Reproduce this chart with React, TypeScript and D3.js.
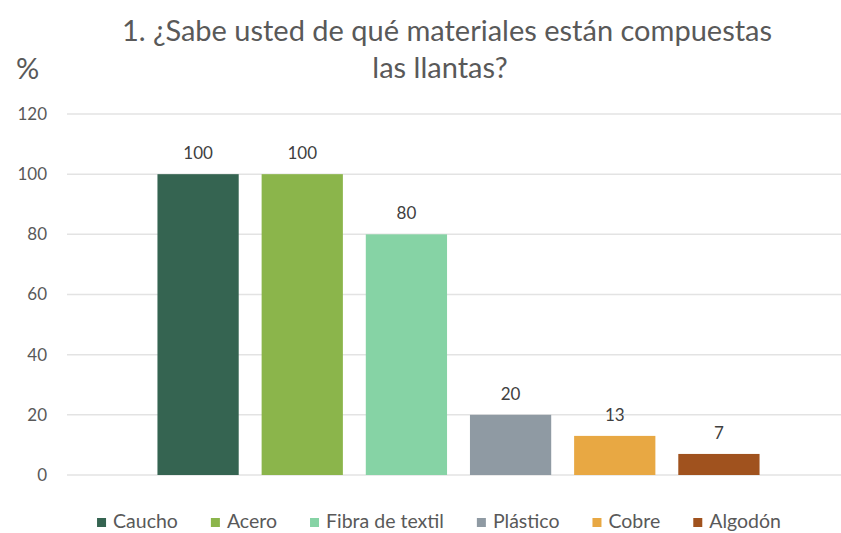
import React, { useEffect, useRef } from "react";
import * as d3 from "d3";

const categories = ["Caucho", "Acero", "Fibra de textil", "Plástico", "Cobre", "Algodón"];
const values = [100, 100, 80, 20, 13, 7];
const colors = ["#356451", "#8BB54B", "#86D3A5", "#8F9AA3", "#E8A843", "#A0521E"];
const yTicks = [0, 20, 40, 60, 80, 100, 120];
const titleLines = ["1. ¿Sabe usted de qué materiales están compuestas", "las llantas?"];
const yLabel = "%";

const W = 841;
const H = 533;
const FONT = "Lato, 'Open Sans', sans-serif";

export default function App() {
  const ref = useRef<SVGSVGElement>(null);

  useEffect(() => {
    const svg = d3.select(ref.current);
    svg.selectAll("*").remove();

    const y = d3.scaleLinear().domain([0, 120]).range([475, 114]);
    const x = d3.scaleBand<string>().domain(categories).range([146, 771]).paddingInner(0.22).paddingOuter(0.11);

    // gridlines
    svg.append("g")
      .selectAll("line")
      .data(yTicks)
      .join("line")
      .attr("x1", 67)
      .attr("x2", W)
      .attr("y1", (d) => y(d))
      .attr("y2", (d) => y(d))
      .attr("stroke", "#E3E3E3")
      .attr("stroke-width", 1.5);

    // y tick labels
    svg.append("g")
      .selectAll("text")
      .data(yTicks)
      .join("text")
      .attr("x", 47)
      .attr("y", (d) => y(d))
      .attr("dy", "0.35em")
      .attr("text-anchor", "end")
      .attr("font-family", FONT)
      .attr("font-size", 17)
      .attr("fill", "#595959")
      .text((d) => String(d));

    // bars
    svg.append("g")
      .selectAll("rect")
      .data(categories)
      .join("rect")
      .attr("x", (d) => x(d)!)
      .attr("width", x.bandwidth())
      .attr("y", (_, i) => y(values[i]))
      .attr("height", (_, i) => y(0) - y(values[i]))
      .attr("fill", (_, i) => colors[i]);

    // data labels
    svg.append("g")
      .selectAll("text")
      .data(categories)
      .join("text")
      .attr("x", (d) => x(d)! + x.bandwidth() / 2)
      .attr("y", (_, i) => y(values[i]) - 15)
      .attr("text-anchor", "middle")
      .attr("font-family", FONT)
      .attr("font-size", 17)
      .attr("fill", "#404040")
      .text((_, i) => String(values[i]));

    // title
    svg.append("text")
      .attr("x", 447)
      .attr("font-family", FONT)
      .attr("font-size", 29)
      .attr("fill", "#595959")
      .attr("text-anchor", "middle")
      .selectAll("tspan")
      .data(titleLines)
      .join("tspan")
      .attr("x", (_, i) => (i === 0 ? 447 : 440))
      .attr("y", (_, i) => 41 + i * 37)
      .text((d) => d);

    // y label
    svg.append("text")
      .attr("x", 16)
      .attr("y", 79)
      .attr("font-family", FONT)
      .attr("font-size", 29)
      .attr("fill", "#595959")
      .text(yLabel);

    // legend
    const legend = svg.append("g");
    const items = legend
      .selectAll("g")
      .data(categories)
      .join("g");
    items.append("rect")
      .attr("width", 9)
      .attr("height", 9)
      .attr("y", -10)
      .attr("fill", (_, i) => colors[i]);
    items.append("text")
      .attr("x", 16)
      .attr("font-family", FONT)
      .attr("font-size", 19.5)
      .attr("fill", "#595959")
      .text((d) => d);
    const widths: number[] = [];
    items.each(function () {
      const t = d3.select(this).select("text").node() as SVGTextElement;
      widths.push(16 + t.getComputedTextLength());
    });
    const gap = 33;
    const total = d3.sum(widths) + gap * (widths.length - 1);
    let cx = 439 - total / 2;
    items.attr("transform", (_, i) => {
      const tx = cx;
      cx += widths[i] + gap;
      return `translate(${tx},528)`;
    });
  }, []);

  return <svg ref={ref} width={W} height={H} style={{ display: "block", position: "absolute", left: 0, top: 0, background: "#fff" }} />;
}
